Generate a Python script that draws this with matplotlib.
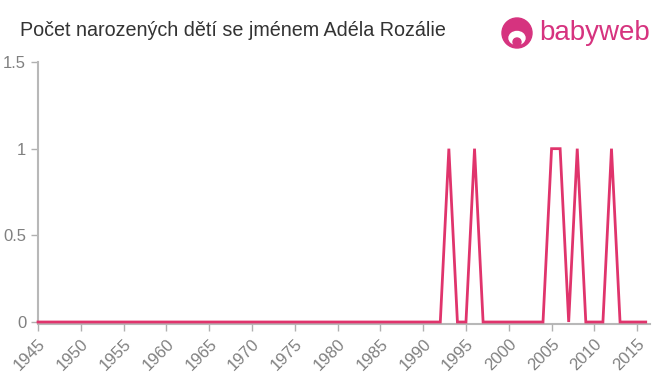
import matplotlib.pyplot as plt
from matplotlib.patches import Ellipse

plt.rcParams["font.family"] = ["Liberation Sans", "DejaVu Sans"]

# data
years = list(range(1945, 2017))
ones = [1993, 1996, 2005, 2006, 2008, 2012]
counts = [1 if y in ones else 0 for y in years]
x_ticks = list(range(1945, 2016, 5))
y_ticks = [0, 0.5, 1, 1.5]
y_labels = ["0", "0.5", "1", "1.5"]

fig = plt.figure(figsize=(6.6, 3.75), dpi=100)
ax = fig.add_axes([38 / 660, 1 - 322 / 375, (650 - 38) / 660, (322 - 62) / 375])

# spines first: set_position resets the tick setup
for side in ["top", "right"]:
    ax.spines[side].set_visible(False)
for side in ["left", "bottom"]:
    ax.spines[side].set_color("#b8b8b8")
    ax.spines[side].set_linewidth(1.5)
ax.spines["bottom"].set_position(("outward", 1.5))
ax.spines["bottom"].set_zorder(1)

ax.plot(years, counts, color="#e0346c", linewidth=2, solid_joinstyle="miter",
        zorder=3, clip_on=False)
ax.set_xlim(1945, 2016.5)
ax.set_ylim(0, 1.5)
ax.set_xticks(x_ticks)
ax.set_xticklabels([str(t) for t in x_ticks], rotation=45, ha="right",
                   rotation_mode="anchor", fontsize=12, color="#808080")
ax.set_yticks(y_ticks)
ax.set_yticklabels(y_labels, fontsize=12, color="#808080")
ax.tick_params(axis="both", color="#b0b0b0", length=5, width=1)

fig.text(20 / 660, 1 - 31 / 375, "Počet narozených dětí se jménem Adéla Rozálie",
         fontsize=14.2, color="#333333", va="center", ha="left")

# logo
logo_color = "#d6337f"
fig.patches.append(Ellipse((517 / 660, 1 - 33 / 375), 30 / 660, 30 / 375,
                           transform=fig.transFigure, color=logo_color))
fig.patches.append(Ellipse((517 / 660, 1 - 38 / 375), 16 / 660, 13 / 375,
                           transform=fig.transFigure, color="white"))
fig.patches.append(Ellipse((517 / 660, 1 - 42 / 375), 8 / 660, 8 / 375,
                           transform=fig.transFigure, color=logo_color))
fig.text(539 / 660, 1 - 33 / 375, "babyweb", fontsize=20, color=logo_color,
         va="center", ha="left")

fig.savefig("out.png", dpi=100)
